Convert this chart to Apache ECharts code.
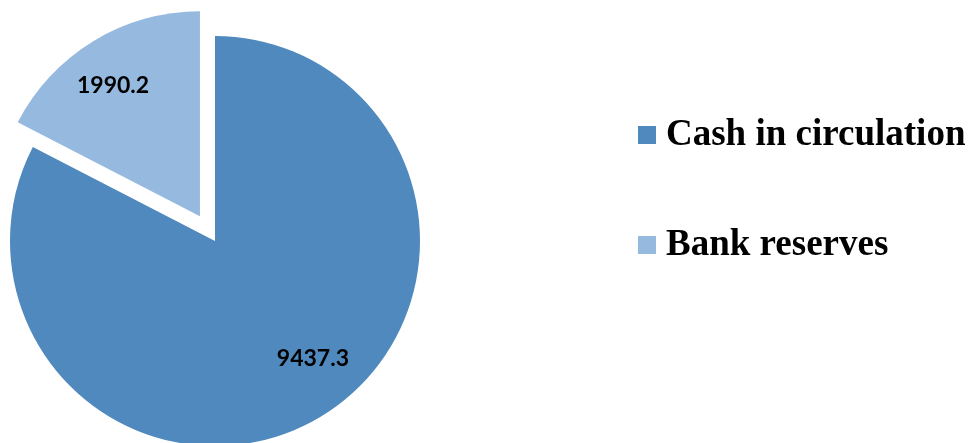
<!DOCTYPE html>
<html>
<head>
<meta charset="utf-8">
<script src="https://cdn.jsdelivr.net/npm/echarts@6/dist/echarts.min.js"></script>
<style>
  html, body { margin: 0; padding: 0; background: #ffffff; }
  #chart { width: 973px; height: 443px; }
</style>
</head>
<body>
<div id="chart"></div>
<script>
// Money base components
const categories = ['Cash in circulation', 'Bank reserves'];
const values = [9437.3, 1990.2];
const colors = ['#4F89BD', '#96B9E0'];
const explodedSlice = 'Bank reserves';
// nudges that move each value label to its spot inside the slice
const labelOffsets = [[43, 27], [-32, -41]];

const chart = echarts.init(document.getElementById('chart'), null, { renderer: 'canvas' });

const pieData = categories.map((name, i) => ({
  name: name,
  value: values[i],
  selected: name === explodedSlice,
  itemStyle: { color: colors[i] },
  label: { offset: labelOffsets[i] },
  select: {
    itemStyle: { color: colors[i] },
    label: { offset: labelOffsets[i] }
  }
}));

chart.setOption({
  animation: false,
  backgroundColor: '#ffffff',
  legend: {
    orient: 'vertical',
    left: 638,
    top: 115,
    padding: 0,
    data: categories,
    icon: 'rect',
    itemWidth: 18,
    itemHeight: 18,
    itemGap: 70,
    selectedMode: false,
    textStyle: {
      fontFamily: 'Liberation Serif',
      fontWeight: 'bold',
      fontSize: 37,
      lineHeight: 40,
      color: '#000000',
      padding: [0, 0, 0, 5]
    }
  },
  series: [{
    type: 'pie',
    center: [215, 241],
    radius: 205,
    startAngle: 90,
    clockwise: true,
    selectedMode: 'single',
    selectedOffset: 29,
    avoidLabelOverlap: false,
    emphasis: { disabled: true },
    itemStyle: { borderWidth: 0 },
    label: {
      show: true,
      position: 'inside',
      formatter: '{c}',
      fontFamily: 'Lato',
      fontWeight: 'bold',
      fontSize: 23,
      color: '#000000'
    },
    labelLine: { show: false },
    data: pieData
  }]
});
</script>
</body>
</html>
